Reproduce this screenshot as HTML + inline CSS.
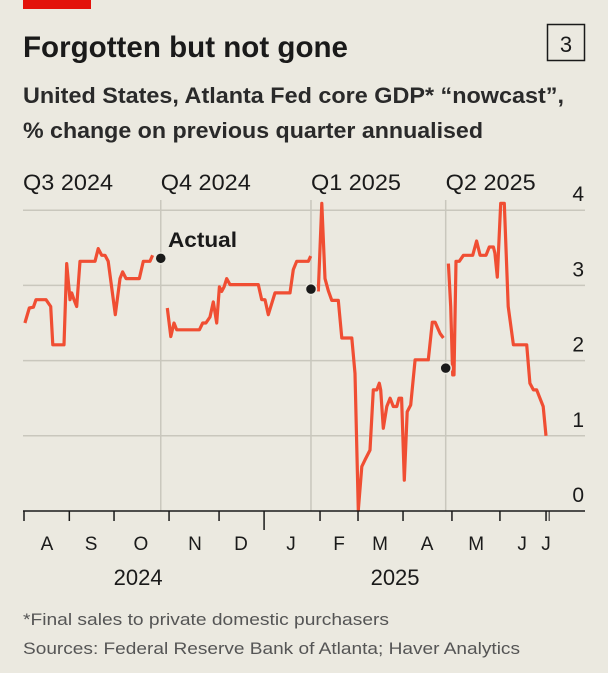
<!DOCTYPE html>
<html><head><meta charset="utf-8"><style>
html,body{margin:0;padding:0;background:#ebe9e0;}
svg{display:block;font-family:"Liberation Sans",sans-serif;}
</style></head><body>
<svg id="chart" width="608" height="673" viewBox="0 0 608 673">
<rect x="0" y="0" width="608" height="673" fill="#ebe9e0"/>
<rect x="23" y="0" width="68" height="9" fill="#e3120b"/>
<text x="23" y="57" font-size="30" font-weight="bold" fill="#1a1a1a" textLength="325" lengthAdjust="spacingAndGlyphs">Forgotten but not gone</text>
<rect x="547.5" y="24.5" width="37" height="36" fill="none" stroke="#1a1a1a" stroke-width="1.5"/>
<text x="566" y="52" font-size="22" text-anchor="middle" fill="#1a1a1a">3</text>
<text x="23" y="103" font-size="22" font-weight="bold" fill="#2a2a2a" textLength="541" lengthAdjust="spacingAndGlyphs">United States, Atlanta Fed core GDP* “nowcast”,</text>
<text x="23" y="138" font-size="22" font-weight="bold" fill="#2a2a2a" textLength="460" lengthAdjust="spacingAndGlyphs">% change on previous quarter annualised</text>
<g id="grid"></g>
<g id="qlabels"></g>
<g id="series"></g>
<g id="dots"></g>
<text x="168" y="247" font-size="21" font-weight="bold" fill="#1a1a1a" textLength="69" lengthAdjust="spacingAndGlyphs">Actual</text>
<g id="xaxis"></g>
<text x="23" y="625" font-size="17" fill="#555" textLength="366" lengthAdjust="spacingAndGlyphs">*Final sales to private domestic purchasers</text>
<text x="23" y="654" font-size="17" fill="#555" textLength="497" lengthAdjust="spacingAndGlyphs">Sources: Federal Reserve Bank of Atlanta; Haver Analytics</text>
</svg>
<script>
// days since 1 Aug 2024; values in % annualised
const seg1Days=[0.6,3.4,6.0,7.7,14.1,17.1,18.4,25.6,27.3,29.4,30.5,32.0,33.7,35.8,45.4,47.5,49.7,51.8,53.9,58.4,61.4,63.1,65.3,73.8,76.3,80.6,82.3];
const seg1Vals=[2.50,2.70,2.71,2.81,2.81,2.72,2.21,2.21,3.29,2.81,2.90,2.81,2.72,3.32,3.32,3.49,3.40,3.40,3.32,2.61,3.09,3.18,3.09,3.09,3.32,3.32,3.40];
const seg2Days=[91.7,93.9,96.0,97.7,112.2,114.3,116.4,119.0,121.1,123.3,125.0,126.5,128.0,129.7,131.8,149.9,152.1,154.2,156.3,160.6,170.2,172.3,174.5,181.9,183.4];
const seg2Vals=[2.70,2.32,2.50,2.41,2.41,2.50,2.50,2.58,2.78,2.50,2.98,2.92,2.98,3.09,3.01,3.01,2.81,2.81,2.61,2.90,2.90,3.21,3.32,3.32,3.39];
const seg3Days=[188.3,190.5,192.6,194.7,196.9,201.1,203.3,209.7,211.8,213.9,216.1,218.2,221.4,223.5,225.7,227.3,228.2,229.9,232.1,234.2,236.3,238.5,239.9,241.6,243.3,245.2,247.4,250.2,258.7,261.2,263.0,266.2,268.3];
const seg3Vals=[2.92,4.09,3.09,2.93,2.80,2.80,2.30,2.30,1.83,0.01,0.59,0.68,0.81,1.61,1.61,1.70,1.61,1.10,1.39,1.50,1.39,1.39,1.50,1.50,0.41,1.32,1.41,2.01,2.01,2.51,2.51,2.36,2.30];
const seg4Days=[271.5,273.0,274.3,275.1,276.4,278.5,281.1,287.1,289.6,291.8,295.6,297.7,300.3,301.3,302.8,305.0,307.3,309.8,313.1,321.6,323.7,325.9,328.0,332.2,334.0];
const seg4Vals=[3.29,2.72,1.81,1.81,3.32,3.32,3.40,3.40,3.59,3.40,3.40,3.51,3.51,3.43,3.11,4.09,4.09,2.72,2.21,2.21,1.70,1.61,1.61,1.39,1.00];
const actualDays=[87.5,183.6,269.8];
const actualVals=[3.36,2.95,1.90];
const quarterLabels=["Q3 2024","Q4 2024","Q1 2025","Q2 2025"];
const quarterDays=[-0.6,87.5,183.6,269.8];
const yTicks=[0,1,2,3,4];
const monthTickDays=[0,29,57.6,92.8,124.8,153.6,189.4,213.7,242.5,273.8,304.5,334];
const monthLabels=["A","S","O","N","D","J","F","M","A","M","J","J"];
const monthLabelDays=[14.7,42.9,74.8,109.4,138.8,170.8,201.6,227.8,257.9,289.3,318.7,334];
const yearLabels=["2024","2025"];
const yearLabelDays=[73,237.4];

const NS="http://www.w3.org/2000/svg";
const X0=24, PXD=1.563, Y0=511, PXV=75.2, XL=23, XR=585;
const x=d=>X0+d*PXD;
const y=v=>Y0-v*PXV;
function mk(tag,attrs,parent){const e=document.createElementNS(NS,tag);for(const k in attrs)e.setAttribute(k,attrs[k]);parent.appendChild(e);return e;}
const grid=document.getElementById('grid');
yTicks.forEach(t=>{
  if(t>0){const l=mk('line',{x1:XL,x2:XR,y1:y(t),y2:y(t),stroke:'#c9c7bd','stroke-width':1.5},grid);
  
  }
  const tx=mk('text',{x:584,y:y(t)-9,'font-size':21,'text-anchor':'end',fill:'#1a1a1a'},grid);
  tx.textContent=t;
  
  
});
quarterDays.slice(1).forEach(d=>{
  const l=mk('line',{x1:x(d),x2:x(d),y1:200,y2:Y0,stroke:'#c9c7bd','stroke-width':1.5},grid);
  
  
});
const ql=document.getElementById('qlabels');
quarterLabels.forEach((s,i)=>{
  const t=mk('text',{x:x(quarterDays[i]),y:190,'font-size':22,fill:'#1a1a1a',textLength:90,lengthAdjust:'spacingAndGlyphs'},ql);
  t.textContent=s;
  
  
});
const ser=document.getElementById('series');
[[seg1Days,seg1Vals],[seg2Days,seg2Vals],[seg3Days,seg3Vals],[seg4Days,seg4Vals]].forEach(([ds,vs])=>{
  const pts=ds.map((d,i)=>x(d).toFixed(1)+','+y(vs[i]).toFixed(1)).join(' ');
  const p=mk('polyline',{points:pts,fill:'none',stroke:'#f04e33','stroke-width':3.2,'stroke-linejoin':'round'},ser);
  
  
});
const dots=document.getElementById('dots');
actualDays.forEach((d,i)=>{
  const c=mk('circle',{cx:x(d),cy:y(actualVals[i]),r:5.5,fill:'#1a1a1a',stroke:'#ebe9e0','stroke-width':1.5},dots);
  
  
});
const xa=document.getElementById('xaxis');
const ax=mk('line',{x1:XL,x2:XR,y1:Y0,y2:Y0,stroke:'#1a1a1a','stroke-width':1.5},xa);


monthTickDays.forEach(d=>{
  const long=(d===153.6);
  const t=mk('line',{x1:x(d),x2:x(d),y1:Y0,y2:long?530:521,stroke:'#1a1a1a','stroke-width':1.5},xa);
  
  
});
const jul=mk('line',{x1:x(336),x2:x(336),y1:Y0,y2:521,stroke:'#1a1a1a','stroke-width':1},xa);


monthLabels.forEach((s,i)=>{
  const t=mk('text',{x:x(monthLabelDays[i]),y:550,'font-size':19,'text-anchor':'middle',fill:'#1a1a1a'},xa);
  t.textContent=s;
  
  
});
yearLabels.forEach((s,i)=>{
  const t=mk('text',{x:x(yearLabelDays[i]),y:585,'font-size':22,'text-anchor':'middle',fill:'#1a1a1a'},xa);
  t.textContent=s;
  
  
});
</script>
</body></html>
